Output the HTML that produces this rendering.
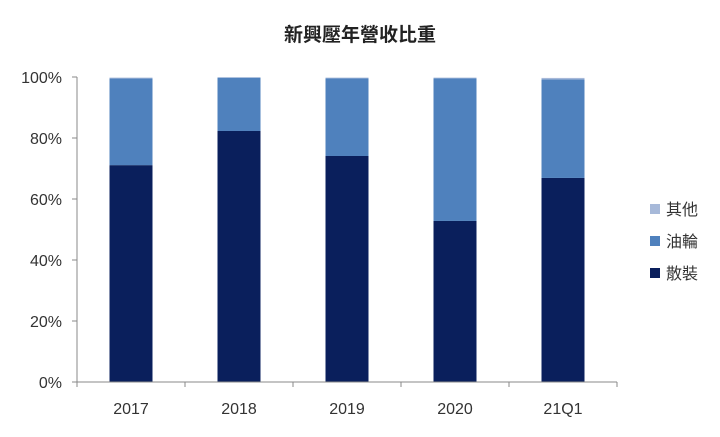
<!DOCTYPE html>
<html><head><meta charset="utf-8"><style>
body{margin:0;background:#fff;font-family:"Liberation Sans","Noto Sans CJK TC",sans-serif;}
svg text{font-family:"Liberation Sans","Noto Sans CJK TC",sans-serif;}
</style></head><body>
<svg width="720" height="432" xmlns="http://www.w3.org/2000/svg">
<text x="360" y="41" text-anchor="middle" font-size="19" font-weight="bold" fill="#222">新興壓年營收比重</text>
<g id="plot"></g>
</svg>
<script>
const categories=["2017","2018","2019","2020","21Q1"];
const bulk=[71.1,82.3,74.1,52.8,66.9];
const tanker=[28.4,17.5,25.5,46.8,32.3];
const other=[0.3,0.1,0.2,0.2,0.5];
const yTicks=[0,20,40,60,80,100];
const seriesNames=["散裝","油輪","其他"];
const colors=["#0a1f5c","#4f81bd","#a7b9d9"];
const g=document.getElementById('plot');
const NS="http://www.w3.org/2000/svg";
const x0=77,x1=617,y0=382,y1=77;
const band=(x1-x0)/categories.length;
const X=i=>x0+band*i+band/2;
const Y=v=>y0-(v/100)*(y0-y1);
function mk(t,a){const e=document.createElementNS(NS,t);for(const k in a)e.setAttribute(k,a[k]);g.appendChild(e);return e;}
yTicks.forEach(v=>{
 const l=mk('line',{x1:x0-5,x2:x0,y1:Y(v),y2:Y(v),stroke:'#888'});
 
 
 const t=mk('text',{x:62,y:Y(v)+6,'text-anchor':'end','font-size':16,fill:'#333'});
 t.textContent=v+'%';
 
 
});
const series=[bulk,tanker,other];
categories.forEach((c,i)=>{
 let acc=0;
 series.forEach((s,j)=>{
  const r=mk('rect',{x:X(i)-21.5,width:43,y:Y(acc+s[i]),height:Y(acc)-Y(acc+s[i]),fill:colors[j]});
  
  
  acc+=s[i];
 });
 const t=mk('text',{x:X(i),y:414,'text-anchor':'middle','font-size':16,fill:'#333'});
 t.textContent=c;
 
 
});
for(let i=0;i<=categories.length;i++){
 const l=mk('line',{x1:x0+band*i,x2:x0+band*i,y1:y0,y2:y0+5,stroke:'#888'});
 
 
}
const ax=mk('line',{x1:x0,x2:x0,y1:y1,y2:y0,stroke:'#888'});


const bx=mk('line',{x1:x0,x2:x1,y1:y0,y2:y0,stroke:'#888'});


[2,1,0].forEach((j,k)=>{
 const yy=209+32*k;
 const r=mk('rect',{x:650,y:yy-5,width:10,height:10,fill:colors[j]});
 
 
 const t=mk('text',{x:666,y:yy+6,'font-size':16,fill:'#333'});
 t.textContent=seriesNames[j];
 
 
});
</script>
</body></html>
